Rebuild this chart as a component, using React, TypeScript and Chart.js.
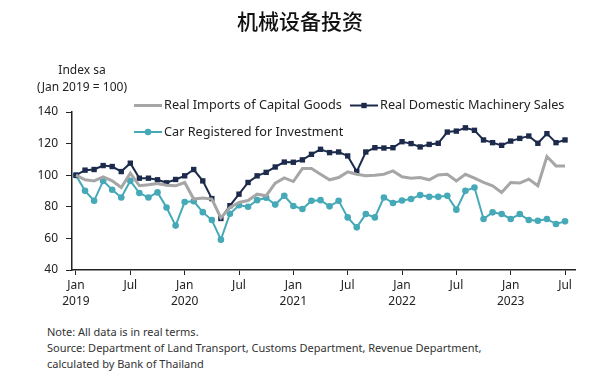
import React, { useEffect, useRef } from "react";
import { Chart, registerables } from "chart.js";

Chart.register(...registerables);

const title = "机械设备投资";
const yTitle = ["Index sa", "(Jan 2019 = 100)"];
const monthTicks = ["Jan", "Jul"];
const years = ["2019", "2020", "2021", "2022", "2023"];
const tickPositions = [0, 6, 12, 18, 24, 30, 36, 42, 48, 54];
const yTicks = [40, 60, 80, 100, 120, 140];

const seriesNames = [
  "Real Imports of Capital Goods",
  "Real Domestic Machinery Sales",
  "Car Registered for Investment",
];

const importsCapital = [
  100, 97.1, 96.4, 99, 96.4, 92.2, 101.3, 93.3, 93.9, 94.7,
  93.7, 93.3, 95.4, 84.9, 85.5, 84.9, 73, 79.6, 82.7, 84,
  88, 87, 95, 98.3, 96, 104.2, 104.2, 100.6, 97.1, 98.5,
  102.1, 100.6, 99.6, 100, 100.6, 102.7, 99, 98.1, 98.5, 97.1,
  100.2, 100.6, 96.4, 100.6, 98.1, 95.4, 93.3, 89.1, 95.4, 95,
  97.5, 93.3, 111.8, 105.9, 105.9,
];

const machinerySales = [
  100, 103.2, 103.6, 106.1, 105.5, 102.3, 107.6, 98.1, 98.1, 97.1,
  95.2, 97.3, 99.6, 103.6, 96.4, 85.2, 72.6, 80.7, 88, 95.4,
  99.6, 101.8, 105.2, 108.3, 108.2, 109.7, 113.2, 116.4, 114.3, 114.7,
  112.2, 102.3, 114.7, 117.4, 117.2, 117.4, 121.2, 120, 117.9, 119.5,
  120.2, 127.3, 127.9, 130, 128.4, 122.3, 120.6, 118.9, 121.6, 123.3,
  124.8, 120.2, 126.3, 120.6, 122.3,
];

const carRegistered = [
  100, 90.1, 83.8, 96.4, 90.8, 85.9, 96.4, 88.7, 85.9, 89.1,
  79.6, 68.1, 83, 83.5, 76.6, 71.6, 59.2, 75.6, 81, 80,
  84.2, 85.7, 81.4, 87, 80.5, 78.6, 83.8, 84.2, 80.3, 83.8,
  73.3, 67, 75.4, 73.3, 85.9, 82.4, 84, 84.9, 87.4, 86.3,
  86.3, 87, 78.2, 90.1, 92.2, 72.3, 76.5, 75.4, 72.3, 75.4,
  71.6, 71.2, 72.3, 69.1, 70.8,
];

const noteLines = [
  "Note: All data is in real terms.",
  "Source: Department of Land Transport, Customs Department, Revenue Department,",
  "calculated by Bank of Thailand",
];

const GRAY = "#a6a6a6";
const NAVY = "#1c2b4b";
const TEAL = "#45a9b8";
const FONT = '"Noto Sans", "DejaVu Sans", sans-serif';

const legendPlugin = {
  id: "customLegend",
  afterDraw(chart: any) {
    const ctx = chart.ctx;
    const spots = [
      { ds: 0, x: 134, y: 105.5 },
      { ds: 1, x: 350, y: 105.5 },
      { ds: 2, x: 134, y: 132 },
    ];
    ctx.save();
    spots.forEach((s) => {
      const ds = chart.data.datasets[s.ds];
      ctx.strokeStyle = ds.borderColor;
      ctx.lineWidth = ds.borderWidth;
      ctx.beginPath();
      ctx.moveTo(s.x, s.y);
      ctx.lineTo(s.x + 28, s.y);
      ctx.stroke();
      if (ds.pointRadius > 0) {
        ctx.fillStyle = ds.pointBackgroundColor;
        const cx = s.x + 14;
        if (ds.pointStyle === "rect") {
          const h = Math.SQRT1_2 * ds.pointRadius;
          ctx.fillRect(cx - h, s.y - h, 2 * h, 2 * h);
        } else {
          ctx.beginPath();
          ctx.arc(cx, s.y, ds.pointRadius, 0, Math.PI * 2);
          ctx.fill();
        }
      }
      ctx.fillStyle = "#222";
      ctx.font = `12.7px ${FONT}`;
      ctx.textBaseline = "middle";
      ctx.textAlign = "left";
      ctx.fillText(ds.label, s.x + 30, s.y);
    });
    ctx.restore();
  },
};

function ChartCanvas() {
  const ref = useRef<HTMLCanvasElement>(null);
  useEffect(() => {
    if (!ref.current) return;
    const mk = (arr: number[]) => arr.map((y, i) => ({ x: i, y }));
    const chart = new Chart(ref.current, {
      type: "line",
      data: {
        datasets: [
          {
            label: seriesNames[0],
            data: mk(importsCapital),
            borderColor: GRAY,
            backgroundColor: GRAY,
            borderWidth: 3,
            pointRadius: 0,
            tension: 0,
          },
          {
            label: seriesNames[1],
            data: mk(machinerySales),
            borderColor: NAVY,
            backgroundColor: NAVY,
            pointBackgroundColor: NAVY,
            pointBorderColor: NAVY,
            borderWidth: 2,
            pointStyle: "rect",
            pointRadius: 3.8,
            pointBorderWidth: 0,
            tension: 0,
          },
          {
            label: seriesNames[2],
            data: mk(carRegistered),
            borderColor: TEAL,
            backgroundColor: TEAL,
            pointBackgroundColor: TEAL,
            pointBorderColor: TEAL,
            borderWidth: 2,
            pointStyle: "circle",
            pointRadius: 3.3,
            pointBorderWidth: 0,
            tension: 0,
          },
        ],
      },
      options: {
        responsive: false,
        animation: false,
        layout: { padding: { left: 0, right: 25, top: 112, bottom: 0 } },
        plugins: {
          legend: { display: false },
          tooltip: { enabled: false },
        },
        scales: {
          x: {
            type: "linear",
            min: -0.44,
            max: 55.1,
            afterBuildTicks: (axis: any) => {
              axis.ticks = tickPositions.map((v) => ({ value: v }));
            },
            afterFit: (axis: any) => {
              axis.height = 50;
            },
            grid: {
              drawOnChartArea: false,
              drawTicks: true,
              tickLength: 5,
              color: "#222",
            },
            border: { display: true, color: "#222", width: 1.5 },
            ticks: {
              autoSkip: false,
              maxRotation: 0,
              padding: 3,
              color: "#222",
              font: { family: FONT, size: 12, lineHeight: 1.3 },
              callback: (v: any) => {
                const n = Number(v);
                if (n % 12 === 0) return [monthTicks[0], years[n / 12]];
                return monthTicks[1];
              },
            },
          },
          y: {
            min: 40,
            max: 140,
            afterBuildTicks: (axis: any) => {
              axis.ticks = yTicks.map((v) => ({ value: v }));
            },
            afterFit: (axis: any) => {
              axis.width = 72;
            },
            grid: {
              drawOnChartArea: false,
              drawTicks: true,
              tickLength: 6,
              color: "#222",
            },
            border: { display: true, color: "#222", width: 1.5 },
            ticks: {
              padding: 8,
              color: "#222",
              font: { family: FONT, size: 12 },
            },
          },
        },
      },
      plugins: [legendPlugin],
    } as any);
    return () => chart.destroy();
  }, []);
  return <canvas ref={ref} width={600} height={320} style={{ display: "block" }} />;
}

export default function App() {
  return (
    <div
      style={{
        position: "absolute",
        left: 0,
        top: 0,
        width: 600,
        height: 378,
        background: "#fff",
        fontFamily: FONT,
        color: "#222",
        overflow: "hidden",
      }}
    >
      <div style={{ position: "absolute", left: 0, top: 0 }}>
        <ChartCanvas />
      </div>
      <div
        style={{
          position: "absolute",
          left: 0,
          top: 6,
          width: 600,
          textAlign: "center",
          fontFamily: '"Noto Sans CJK SC", sans-serif',
          fontSize: 21,
          fontWeight: 500,
          lineHeight: "28px",
          color: "#111",
        }}
      >
        {title}
      </div>
      <div
        style={{
          position: "absolute",
          left: 22,
          top: 61,
          width: 120,
          textAlign: "center",
          fontSize: 12,
          lineHeight: "17px",
        }}
      >
        {yTitle.map((t) => (
          <div key={t}>{t}</div>
        ))}
      </div>
      <div
        style={{
          position: "absolute",
          left: 47,
          top: 324,
          fontSize: 11,
          lineHeight: "16px",
          color: "#333",
          whiteSpace: "nowrap",
        }}
      >
        {noteLines.map((t) => (
          <div key={t}>{t}</div>
        ))}
      </div>
    </div>
  );
}
